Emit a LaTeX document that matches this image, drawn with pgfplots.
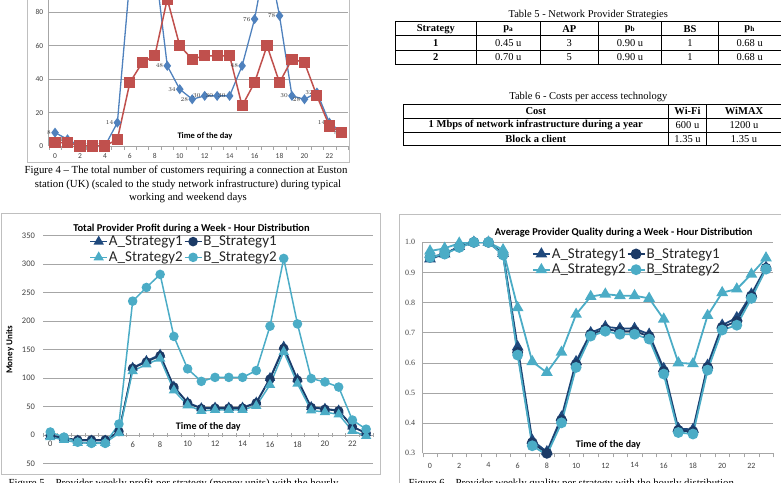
\documentclass[border=0pt]{standalone}
\usepackage{pgfplots}
\pgfplotsset{compat=1.18}
\usepackage{fontspec}
\setmainfont{Liberation Serif}
\newfontfamily\calibri{Carlito}
\definecolor{xlblue}{HTML}{4F81BD}
\definecolor{xlred}{HTML}{C0504D}
\definecolor{dnavy}{HTML}{1F497D}
\definecolor{dnavyB}{HTML}{1B3A66}
\definecolor{lteal}{HTML}{4BACC6}
\definecolor{gridg}{HTML}{A6A6A6}
\definecolor{frameg}{HTML}{BFBFBF}
\definecolor{ticktxt}{HTML}{404040}

\pgfplotstableread{
h blue red
0 8 2
1 4 2
2 0 0
3 0 0
4 0 0
5 14 4
6 100 38
7 120 50
8 110 54
9 48 88
10 34 60
11 28 52
12 30 54
13 30 54
14 30 54
15 48 24
16 76 38
17 116 60
18 78 38
19 30 52
20 28 50
21 32 30
22 14 12
23 8 8
}\custtab

\pgfplotstableread{
h AS1 BS1 AS2 BS2
0 -2 -1 -4 5
1 -6 -5 -9 -4
2 -10 -9 -14 -13
3 -10 -9 -14 -15
4 -10 -9 -14 -15
5 5 6 3 19
6 118 117 112 235
7 130 128 124 259
8 141 139 134 282
9 85 84 78 173
10 57 56 52 116
11 47 46 42 94
12 48 47 44 101
13 48 47 44 101
14 48 47 44 101
15 57 56 51 113
16 100 98 88 191
17 155 152 146 310
18 98 96 90 195
19 49 48 43 99
20 46 45 40 93
21 43 42 36 84
22 15 14 7 26
23 3 3 -2 10
}\profittab

\pgfplotstableread{
h AS1 BS1 AS2 BS2
0 0.945 0.950 0.971 0.950
1 0.961 0.962 0.980 0.961
2 0.986 0.985 0.997 0.983
3 1.000 1.000 1.000 1.000
4 1.000 1.000 1.000 1.000
5 0.963 0.960 0.975 0.958
6 0.653 0.635 0.783 0.626
7 0.343 0.335 0.604 0.325
8 0.305 0.300 0.568 0.295
9 0.420 0.410 0.635 0.401
10 0.604 0.595 0.761 0.585
11 0.700 0.695 0.820 0.689
12 0.720 0.712 0.828 0.705
13 0.714 0.705 0.823 0.695
14 0.714 0.705 0.823 0.695
15 0.695 0.688 0.814 0.679
16 0.581 0.572 0.745 0.563
17 0.382 0.376 0.600 0.369
18 0.379 0.372 0.597 0.364
19 0.592 0.585 0.757 0.576
20 0.725 0.718 0.833 0.709
21 0.750 0.738 0.845 0.725
22 0.828 0.822 0.894 0.814
23 0.917 0.914 0.948 0.911
}\qualtab

\pgfplotsset{
  xlcommon/.style={
    scale only axis, anchor=south west,
    xmin=-0.5, xmax=23.5,
    xtick={0,2,4,6,8,10,12,14,16,18,20,22},
    xticklabels={0,2,4,6,8,10,12,14,16,18,20,22},
    minor xtick={-0.5,0.5,...,23.5},
    major tick length=0pt, minor tick length=4pt, tick align=outside,
    minor tick style={gridg},
    ymajorgrids, grid style={gridg, line width=0.7pt},
  },
  legstyle/.style={
    legend columns=2,
    legend cell align=left,
    legend style={draw=none, fill=none, inner sep=0pt, row sep=2.5pt,
      font=\calibri\fontsize{15}{16}\selectfont, text=black!85,
      nodes={inner sep=1pt},
      /tikz/every even column/.append style={column sep=0pt}},
  },
}

\begin{document}
\begin{tikzpicture}[x=1pt,y=1pt]
\useasboundingbox (0,0) rectangle (781,482);
\clip (0,0) rectangle (781,482);

% ---------------- Figure 4 ----------------
\draw[frameg, line width=0.8pt] (27,500) -- (27,320) -- (349,320) -- (349,500);
\begin{axis}[xlcommon,
  at={(48.8pt,336pt)}, width=299.3pt, height=167pt,
  ymin=0, ymax=100,
  ytick={0,20,40,60,80,100}, yticklabels={0,20,40,60,80,100},
  axis x line*=bottom, axis y line*=left,
  axis line style={-, gridg, line width=0.7pt},
  tick label style={font=\calibri\fontsize{7.5}{9}\selectfont, text=ticktxt},
  yticklabel style={xshift=-2pt},
  xticklabel style={yshift=-4pt},
]
\addplot[xlblue, line width=1.3pt, mark=diamond*, mark size=4pt,
  mark options={fill=xlblue, draw=xlblue},
  nodes near coords, point meta=explicit,
  nodes near coords style={anchor=east, xshift=-3pt, inner sep=0.5pt,
     font=\calibri\fontsize{6}{7}\selectfont, text=black!80}]
  table[x=h, y=blue, meta=blue] {\custtab};
\addplot[xlred, line width=1.5pt, mark=square*, mark size=4.8pt,
  mark options={fill=xlred, draw=xlred}]
  table[x=h, y=red] {\custtab};
\end{axis}
\node[font=\calibri\bfseries\fontsize{8.5}{10}\selectfont] at (205,346) {Time of the day};

\node[anchor=base, font=\fontsize{10.8}{13}\selectfont] at (186,308) {Figure 4 -- The total number of customers requiring a connection at Euston};
\node[anchor=base, font=\fontsize{10.8}{13}\selectfont] at (188,294.5) {station (UK) (scaled to the study network infrastructure) during typical};
\node[anchor=base, font=\fontsize{10.8}{13}\selectfont] at (188,281) {working and weekend days};

% ---------------- Tables ----------------
\node[font=\fontsize{10.5}{12}\selectfont] at (588.3,467) {Table 5 - Network Provider Strategies};
\begin{scope}[line width=0.8pt]
\draw (395,460.3) rectangle (781,417.7);
\draw (395,446.3) -- (781,446.3);
\draw (395,432) -- (781,432);
\foreach \xx in {476.7,540,598.3,661.7,718.3} \draw (\xx,460.3) -- (\xx,417.7);
\end{scope}
\begin{scope}[font=\fontsize{10.5}{12}\selectfont]
\node at (435.8,453.3) {\textbf{Strategy}};
\node at (508.3,453.3) {\textbf{p\textsubscript{a}}};
\node at (569.3,453.3) {\textbf{AP}};
\node at (630,453.3) {\textbf{p\textsubscript{b}}};
\node at (690,453.3) {\textbf{BS}};
\node at (749.7,453.3) {\textbf{p\textsubscript{h}}};
\node at (435.8,439.2) {\textbf{1}};
\node at (508.3,439.2) {0.45 u};
\node at (569.3,439.2) {3};
\node at (630,439.2) {0.90 u};
\node at (690,439.2) {1};
\node at (749.7,439.2) {0.68 u};
\node at (435.8,424.8) {\textbf{2}};
\node at (508.3,424.8) {0.70 u};
\node at (569.3,424.8) {5};
\node at (630,424.8) {0.90 u};
\node at (690,424.8) {1};
\node at (749.7,424.8) {0.68 u};
\end{scope}

\node[font=\fontsize{10.5}{12}\selectfont] at (588.3,385.3) {Table 6 - Costs per access technology};
\begin{scope}[line width=0.8pt]
\draw (403.3,377.7) rectangle (781,336.3);
\draw (403.3,363.7) -- (781,363.7);
\draw (403.3,349.7) -- (781,349.7);
\foreach \xx in {668.3,706.7} \draw (\xx,377.7) -- (\xx,336.3);
\end{scope}
\begin{scope}[font=\fontsize{10.5}{12}\selectfont]
\node at (535.8,370.7) {\textbf{Cost}};
\node at (687.5,370.7) {\textbf{Wi-Fi}};
\node at (744,370.7) {\textbf{WiMAX}};
\node at (535.8,356.7) {\textbf{1 Mbps of network infrastructure during a year}};
\node at (687.5,356.7) {600 u};
\node at (744,356.7) {1200 u};
\node at (535.8,343) {\textbf{Block a client}};
\node at (687.5,343) {1.35 u};
\node at (744,343) {1.35 u};
\end{scope}

% ---------------- Figure 5 ----------------
\draw[frameg, line width=0.8pt] (1,268.7) rectangle (380,8);
\begin{axis}[xlcommon, legstyle,
  at={(43.4pt,18.7pt)}, width=329.6pt, height=227.6pt,
  ymin=-50, ymax=350,
  ytick={-50,0,50,100,150,200,250,300,350},
  yticklabels={50,0,50,100,150,200,250,300,350},
  axis x line=middle, axis y line=left,
  axis line style={-},
  x axis line style={gridg, line width=0.7pt},
  y axis line style={draw=none},
  tick label style={font=\calibri\fontsize{8.5}{10}\selectfont, text=ticktxt},
  yticklabel style={xshift=-5pt},
  xticklabel style={yshift=-3pt},
  legend style={at={(0.139,1.004)}, anchor=north west},
]
\addplot[dnavy, line width=1.5pt, mark=triangle*, mark size=4.5pt, mark options={fill=dnavy}]
  table[x=h, y=AS1] {\profittab};
\addlegendentry{A\_Strategy1}
\addplot[dnavyB, line width=1.5pt, mark=*, mark size=4pt, mark options={fill=dnavyB}]
  table[x=h, y=BS1] {\profittab};
\addlegendentry{B\_Strategy1}
\addplot[lteal, line width=1.5pt, mark=triangle*, mark size=4.5pt, mark options={fill=lteal}]
  table[x=h, y=AS2] {\profittab};
\addlegendentry{A\_Strategy2}
\addplot[lteal, line width=1.5pt, mark=*, mark size=4pt, mark options={fill=lteal}]
  table[x=h, y=BS2] {\profittab};
\addlegendentry{B\_Strategy2}
\end{axis}
\node[font=\calibri\bfseries\fontsize{10.5}{12}\selectfont] at (191.5,253.7) {Total Provider Profit during a Week - Hour Distribution};
\node[font=\calibri\bfseries\fontsize{10}{12}\selectfont] at (208.3,55.3) {Time of the day};
\node[font=\calibri\bfseries\fontsize{9}{11}\selectfont, rotate=90] at (10,132) {Money Units};
\node[anchor=base west, font=\fontsize{10.8}{13}\selectfont] at (5,-4.5) {Figure 5 -- Provider weekly profit per strategy (money units) with the hourly};

% ---------------- Figure 6 ----------------
\draw[frameg, line width=0.8pt] (399.3,-5) -- (399.3,267.7) -- (790,267.7);
\begin{axis}[xlcommon, legstyle,
  at={(422.7pt,28.7pt)}, width=350.6pt, height=211pt,
  ymin=0.3, ymax=1.0,
  ytick={0.3,0.4,0.5,0.6,0.7,0.8,0.9,1.0},
  yticklabels={0.3,0.4,0.5,0.6,0.7,0.8,0.9,1.0},
  axis x line*=bottom, axis y line*=left,
  axis line style={-, gridg, line width=0.7pt},
  xticklabel style={font=\calibri\fontsize{8}{10}\selectfont, text=ticktxt, yshift=-6pt},
  yticklabel style={font=\fontsize{8}{10}\selectfont, text=ticktxt, xshift=-4pt},
  legend style={at={(0.311,0.977)}, anchor=north west},
]
\addplot[dnavy, line width=1.8pt, mark=triangle*, mark size=5pt, mark options={fill=dnavy}]
  table[x=h, y=AS1] {\qualtab};
\addlegendentry{A\_Strategy1}
\addplot[dnavyB, line width=1.8pt, mark=*, mark size=4.5pt, mark options={fill=dnavyB}]
  table[x=h, y=BS1] {\qualtab};
\addlegendentry{B\_Strategy1}
\addplot[lteal, line width=1.8pt, mark=triangle*, mark size=5pt, mark options={fill=lteal}]
  table[x=h, y=AS2] {\qualtab};
\addlegendentry{A\_Strategy2}
\addplot[lteal, line width=1.8pt, mark=*, mark size=4.5pt, mark options={fill=lteal}]
  table[x=h, y=BS2] {\qualtab};
\addlegendentry{B\_Strategy2}
\end{axis}
\node[font=\calibri\bfseries\fontsize{10.5}{12}\selectfont] at (623.7,249.7) {Average Provider Quality during a Week - Hour Distribution};
\node[font=\calibri\bfseries\fontsize{10}{12}\selectfont] at (608.3,37) {Time of the day};
\node[anchor=base west, font=\fontsize{10.8}{13}\selectfont] at (405,-4.5) {Figure 6 -- Provider weekly quality per strategy with the hourly distribution};
\end{tikzpicture}
\end{document}
